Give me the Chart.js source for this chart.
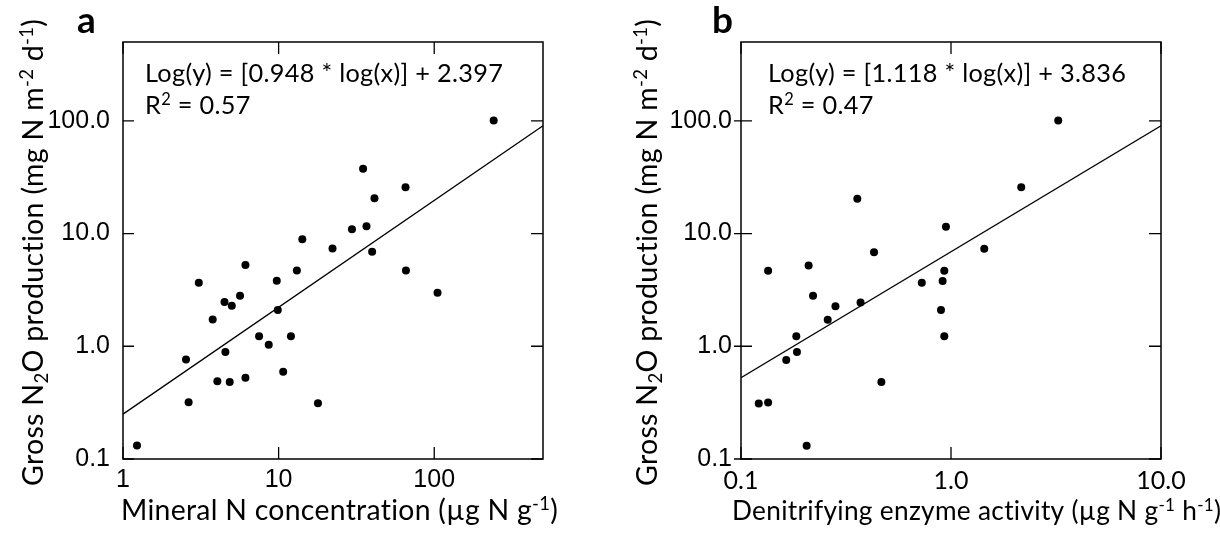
<!DOCTYPE html>
<html><head><meta charset="utf-8">
<script src="https://cdn.jsdelivr.net/npm/chart.js@4.4.1/dist/chart.umd.min.js"></script>
<style>
html,body{margin:0;padding:0;background:#fff;}
#wrap{position:relative;width:1220px;height:543px;overflow:hidden;}
canvas{position:absolute;top:0;}
</style></head><body>
<div id="wrap">
<canvas id="ca" width="600" height="543" style="left:0;width:600px;height:543px"></canvas>
<canvas id="cb" width="620" height="543" style="left:600px;width:620px;height:543px"></canvas>
</div>
<script>
// ---- Panel a data: mineral N concentration (ug N g-1) vs gross N2O production
const mineralN = [1.23, 2.54, 2.64, 3.07, 3.77, 4.04, 4.49, 4.55, 4.85, 5.00, 5.65, 6.12, 6.12, 7.49, 8.64, 9.73,
                  9.88, 10.7, 12.0, 13.1, 14.2, 17.9, 22.2, 29.6, 36.7, 39.9, 65.8, 105, 34.9, 41.3, 65.4, 241];
const n2oA =     [0.132, 0.762, 0.319, 3.66, 1.73, 0.490, 2.47, 0.891, 0.483, 2.29, 2.81, 5.25, 0.525, 1.23, 1.03, 3.81,
                  2.10, 0.593, 1.23, 4.71, 8.91, 0.313, 7.36, 10.9, 11.6, 6.88, 4.71, 2.98, 37.6, 20.6, 25.7, 100.7];
const fitA_x = [1, 500];
const fitA_y = [0.25, 90.3];

// ---- Panel b data: denitrifying enzyme activity (ug N g-1 h-1) vs gross N2O production
const dea =  [0.1215, 0.1346, 0.1346, 0.1642, 0.1834, 0.1847, 0.2054, 0.2099, 0.2203, 0.2588, 0.2817, 0.371,
              0.358, 0.430, 0.466, 0.726, 0.896, 0.912, 0.929, 0.929, 0.946, 1.44, 2.16, 3.24];
const n2oB = [0.311, 0.317, 4.67, 0.757, 1.23, 0.891, 0.131, 5.21, 2.81, 1.72, 2.27, 2.45,
              20.4, 6.84, 0.483, 3.66, 2.10, 3.79, 4.67, 1.23, 11.5, 7.31, 25.7, 100.7];
const fitB_x = [0.1, 10];
const fitB_y = [0.525, 90.4];

// ---- tick values and labels
const yTickVals = [0.1, 1, 10, 100];
const yTickLabels = ["0.1", "1.0", "10.0", "100.0"];
const xTickValsA = [1, 10, 100];
const xTickLabelsA = ["1", "10", "100"];
const xTickValsB = [0.1, 1, 10];
const xTickLabelsB = ["0.1", "1.0", "10.0"];

const SANS = '"Liberation Sans", Arial, sans-serif';
const HUM = 'Lato, "Open Sans", sans-serif';

const yTitle = [{t:'Gross N'},{t:'2',sub:1},{t:'O production (mg N m'},{t:'-2',sup:1},{t:' d'},{t:'-1',sup:1},{t:')'}];
const xTitleA = [{t:'Mineral N concentration (\u00B5g N g'},{t:'-1',sup:1},{t:')'}];
const xTitleB = [{t:'Denitrifying enzyme activity (\u00B5g N g'},{t:'-1',sup:1},{t:' h'},{t:'-1',sup:1},{t:')'}];
const eqA = [{t:'Log(y) = [0.948 * log(x)] + 2.397'}];
const eqB = [{t:'Log(y) = [1.118 * log(x)] + 3.836'}];
const r2A = [{t:'R'},{t:'2',sup:1},{t:' = 0.57'}];
const r2B = [{t:'R'},{t:'2',sup:1},{t:' = 0.47'}];

function segFont(s, size, family, weight){
  const sz = (s.sup||s.sub) ? size*0.65 : size;
  return (weight||'normal') + ' ' + sz + 'px ' + family;
}
function setSpacing(ctx){ try { ctx.letterSpacing = '0.3px'; } catch(e){} }
function richWidth(ctx, segs, size, family){
  let w = 0;
  setSpacing(ctx);
  for (const s of segs){ ctx.font = segFont(s,size,family); w += ctx.measureText(s.t).width; }
  return w;
}
function drawRich(ctx, segs, x, y, size, family){
  let cx = x;
  setSpacing(ctx);
  ctx.textAlign = 'left'; ctx.textBaseline = 'alphabetic'; ctx.fillStyle = '#000';
  for (const s of segs){
    ctx.font = segFont(s,size,family);
    let dy = s.sup ? -0.36*size : (s.sub ? 0.16*size : 0);
    ctx.fillText(s.t, cx, y + dy);
    cx += ctx.measureText(s.t).width;
  }
}
function fitSize(ctx, segs, family, target){
  return 100 * target / richWidth(ctx, segs, 100, family);
}

function annotPlugin(cfg){
  return {
    id:'annot'+cfg.id,
    afterDraw(chart){
      const ctx = chart.ctx, a = chart.chartArea;
      const xs = chart.scales.x, ys = chart.scales.y;
      ctx.save();
      // frame
      ctx.strokeStyle = '#000'; ctx.lineWidth = 1.5;
      ctx.strokeRect(a.left, a.top, a.right - a.left, a.bottom - a.top);
      // tick marks (inward)
      ctx.lineWidth = 1.3;
      ctx.beginPath();
      for (const v of cfg.xTicks){
        const px = xs.getPixelForValue(v);
        ctx.moveTo(px, a.bottom); ctx.lineTo(px, a.bottom - 12);
        ctx.moveTo(px, a.top); ctx.lineTo(px, a.top + 12);
      }
      for (const v of yTickVals){
        const py = ys.getPixelForValue(v);
        ctx.moveTo(a.left - cfg.leftOut, py); ctx.lineTo(a.left + 11, py);
        ctx.moveTo(a.right, py); ctx.lineTo(a.right - 12, py);
      }
      ctx.stroke();
      // y title (rotated)
      const ySize = fitSize(ctx, yTitle, HUM, 460);
      ctx.save();
      ctx.translate(cfg.yTitleX, 256);
      ctx.rotate(-Math.PI/2);
      drawRich(ctx, yTitle, -230, 0, ySize, HUM);
      ctx.restore();
      // x title
      const xSize = fitSize(ctx, cfg.xTitle, HUM, cfg.xTitleW);
      drawRich(ctx, cfg.xTitle, cfg.xTitleLeft, 520, xSize, HUM);
      // equation
      const eSize = fitSize(ctx, cfg.eq, HUM, 351);
      drawRich(ctx, cfg.eq, cfg.eqX, 82, eSize, HUM);
      drawRich(ctx, cfg.r2, cfg.eqX, 114, eSize, HUM);
      // panel letter
      try { ctx.letterSpacing = '0px'; } catch(e){}
      ctx.font = 'bold 37px ' + HUM; ctx.fillStyle = '#000'; ctx.textAlign = 'left'; ctx.textBaseline='alphabetic';
      ctx.fillText(cfg.letter, cfg.letterX, 33);
      ctx.restore();
    }
  };
}

function makeChart(cfg){
  const pts = cfg.xs.map((x,i)=>({x:x, y:cfg.ys[i]}));
  const fit = cfg.fx.map((x,i)=>({x:x, y:cfg.fy[i]}));
  return new Chart(document.getElementById(cfg.id), {
    type:'scatter',
    data:{datasets:[
      {data:fit, showLine:true, borderColor:'#000', borderWidth:1.3, pointRadius:0, pointHoverRadius:0, fill:false, order:2},
      {data:pts, backgroundColor:'#000', borderColor:'#000', borderWidth:0, pointRadius:4, pointHoverRadius:4, order:1}
    ]},
    options:{
      responsive:false, animation:false, events:[],
      layout:{padding:{left:0, top:42, right:cfg.padRight, bottom:0}},
      plugins:{legend:{display:false}, tooltip:{enabled:false}},
      scales:{
        x:{type:'logarithmic', min:cfg.xmin, max:cfg.xmax,
           afterBuildTicks:s=>{ s.ticks = cfg.xTicks.map(v=>({value:v})); },
           ticks:{callback:(v,i)=>cfg.xLabels[i], font:{family:cfg.xTickFont, size:25}, color:'#000', padding:cfg.xPad, maxRotation:0, minRotation:0, autoSkip:false},
           grid:{display:false, drawTicks:false}, border:{display:false},
           afterFit:s=>{ s.height = 84; }},
        y:{type:'logarithmic', min:0.1, max:500,
           afterBuildTicks:s=>{ s.ticks = yTickVals.map(v=>({value:v})); },
           ticks:{callback:(v,i)=>yTickLabels[i], font:{family:SANS, size:25}, color:'#000', padding:cfg.yPad, autoSkip:false},
           grid:{display:false, drawTicks:false}, border:{display:false},
           afterFit:s=>{ s.width = cfg.left; }}
      }
    },
    plugins:[annotPlugin(cfg)]
  });
}

makeChart({id:'ca', xs:mineralN, ys:n2oA, fx:fitA_x, fy:fitA_y, xmin:1, xmax:500,
  xTicks:xTickValsA, xLabels:xTickLabelsA, xTickFont:SANS, xPad:6, yPad:13,
  left:123, padRight:600-543, leftOut:0, yTitleX:43,
  xTitle:xTitleA, xTitleW:430, xTitleLeft:121, eq:eqA, r2:r2A, eqX:145, letter:'a', letterX:77});
makeChart({id:'cb', xs:dea, ys:n2oB, fx:fitB_x, fy:fitB_y, xmin:0.1, xmax:10,
  xTicks:xTickValsB, xLabels:xTickLabelsB, xTickFont:HUM, xPad:7, yPad:9,
  left:141, padRight:620-561, leftOut:7, yTitleX:57,
  xTitle:xTitleB, xTitleW:480, xTitleLeft:132, eq:eqB, r2:r2B, eqX:168, letter:'b', letterX:112});
</script>
</body></html>
